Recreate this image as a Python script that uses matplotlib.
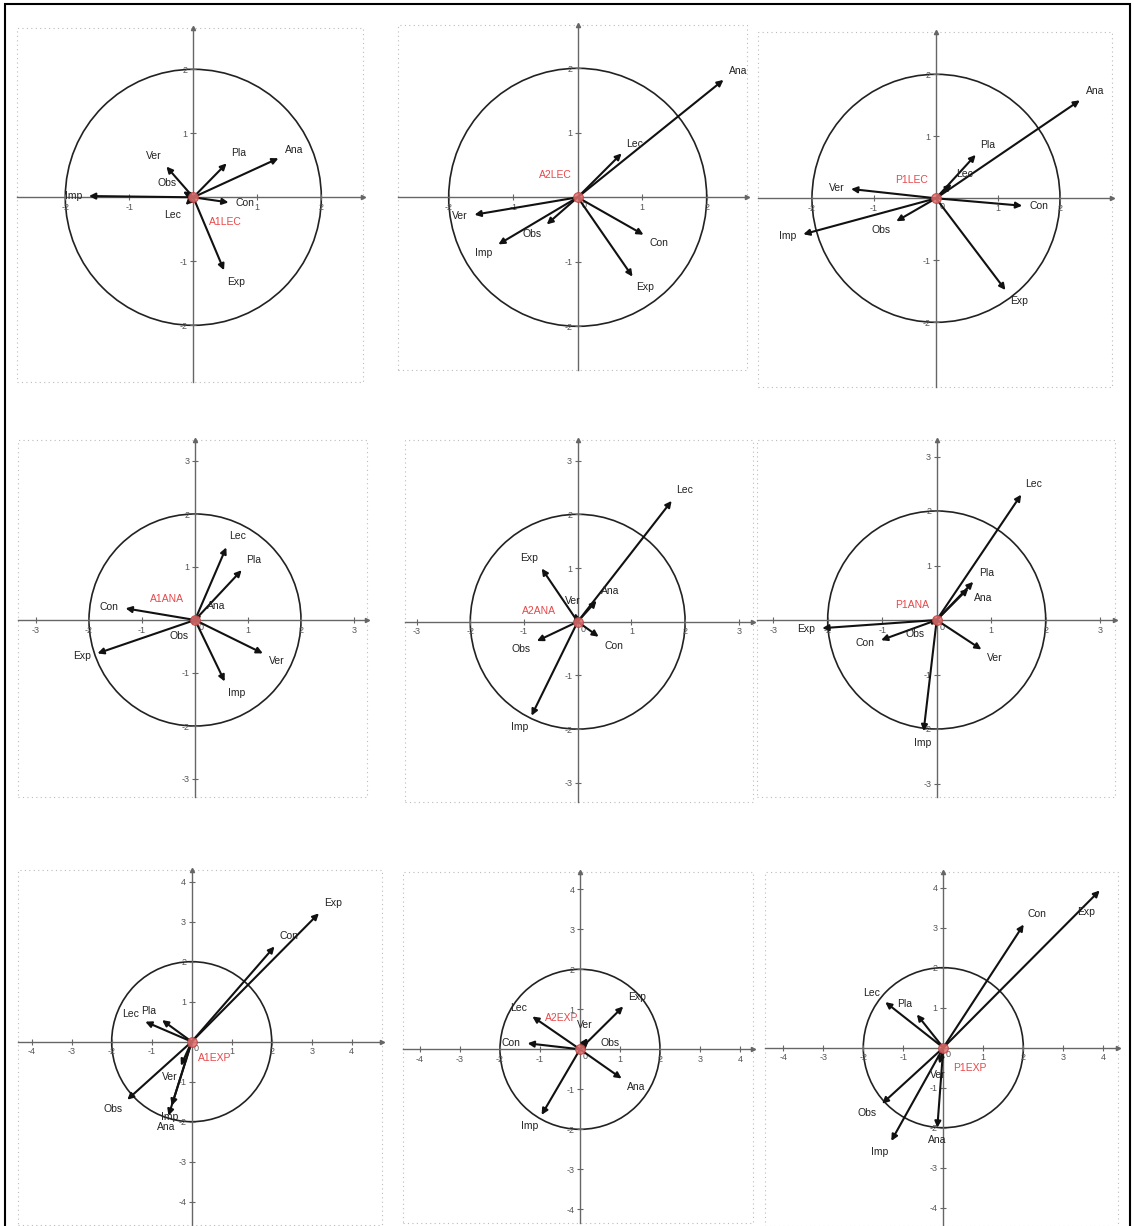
import numpy as np
import matplotlib
matplotlib.use('Agg')
import matplotlib.pyplot as plt
from matplotlib.patches import Circle, Rectangle

plt.rcParams['font.family'] = ['Liberation Sans', 'DejaVu Sans']

W, H = 1134, 1226

titles = ['A1LEC', 'A2LEC', 'P1LEC', 'A1ANA', 'A2ANA', 'P1ANA', 'A1EXP', 'A2EXP', 'P1EXP']

# vector end points
a1lec_names = ['Imp', 'Ana', 'Pla', 'Ver', 'Obs', 'Con', 'Exp', 'Lec']
a1lec_x = [-1.63, 1.33, 0.52, -0.42, -0.16, 0.55, 0.48, -0.12]
a1lec_y = [0.02, 0.61, 0.53, 0.48, 0.09, -0.08, -1.14, -0.12]

a2lec_names = ['Ana', 'Lec', 'Ver', 'Imp', 'Obs', 'Con', 'Exp']
a2lec_x = [2.26, 0.68, -1.60, -1.23, -0.48, 1.02, 0.85]
a2lec_y = [1.82, 0.68, -0.27, -0.73, -0.42, -0.58, -1.23]

p1lec_names = ['Ana', 'Pla', 'Lec', 'Ver', 'Imp', 'Obs', 'Con', 'Exp']
p1lec_x = [2.32, 0.64, 0.25, -1.37, -2.14, -0.64, 1.39, 1.12]
p1lec_y = [1.58, 0.70, 0.23, 0.15, -0.58, -0.37, -0.12, -1.48]

a1ana_names = ['Lec', 'Pla', 'Ana', 'Con', 'Exp', 'Obs', 'Ver', 'Imp']
a1ana_x = [0.59, 0.88, 0.12, -1.31, -1.84, -0.06, 1.28, 0.56]
a1ana_y = [1.37, 0.94, 0.09, 0.22, -0.63, -0.10, -0.63, -1.16]

a2ana_names = ['Lec', 'Exp', 'Ver', 'Ana', 'Obs', 'Con', 'Imp']
a2ana_x = [1.75, -0.67, -0.05, 0.35, -0.76, 0.39, -0.86]
a2ana_y = [2.25, 0.99, 0.16, 0.39, -0.36, -0.28, -1.75]

p1ana_names = ['Lec', 'Pla', 'Ana', 'Exp', 'Con', 'Obs', 'Ver', 'Imp']
p1ana_x = [1.55, 0.67, 0.58, -2.10, -1.02, -0.12, 0.82, -0.24]
p1ana_y = [2.30, 0.70, 0.58, -0.15, -0.37, -0.09, -0.54, -2.04]

a1exp_names = ['Exp', 'Con', 'Pla', 'Lec', 'Obs', 'Ver', 'Imp', 'Ana']
a1exp_x = [3.18, 2.07, -0.74, -1.16, -1.61, -0.27, -0.50, -0.58]
a1exp_y = [3.21, 2.38, 0.54, 0.50, -1.45, -0.60, -1.60, -1.85]

a2exp_names = ['Exp', 'Lec', 'Con', 'Ver', 'Obs', 'Ana', 'Imp']
a2exp_x = [1.08, -1.19, -1.31, 0.19, 0.21, 1.04, -0.96]
a2exp_y = [1.07, 0.82, 0.15, 0.28, 0.19, -0.73, -1.64]

p1exp_names = ['Exp', 'Con', 'Lec', 'Pla', 'Obs', 'Imp', 'Ana', 'Ver']
p1exp_x = [3.91, 2.01, -1.45, -0.66, -1.53, -1.30, -0.15, -0.10]
p1exp_y = [3.93, 3.08, 1.14, 0.83, -1.40, -2.33, -2.00, -0.40]

ticks_2 = [-2, -1, 1, 2]
ticks_3 = [-3, -2, -1, 1, 2, 3]
ticks_4 = [-4, -3, -2, -1, 1, 2, 3, 4]

panels = [
    (a1lec_names, a1lec_x, a1lec_y, ticks_2),
    (a2lec_names, a2lec_x, a2lec_y, ticks_2),
    (p1lec_names, p1lec_x, p1lec_y, ticks_2),
    (a1ana_names, a1ana_x, a1ana_y, ticks_3),
    (a2ana_names, a2ana_x, a2ana_y, ticks_3),
    (p1ana_names, p1ana_x, p1ana_y, ticks_3),
    (a1exp_names, a1exp_x, a1exp_y, ticks_4),
    (a2exp_names, a2exp_x, a2exp_y, ticks_4),
    (p1exp_names, p1exp_x, p1exp_y, ticks_4),
]

# layout: panel box in pixels (left, right, top, bottom), origin pixel, pixels per unit
boxes = [
    (17, 363, 28, 382, 193.3, 197.3, 64.0),
    (398, 747, 25, 370, 577.7, 197.3, 64.5),
    (758, 1112, 32, 387, 936.0, 198.3, 62.0),
    (18, 367, 440, 797, 195.0, 620.0, 53.0),
    (405, 753, 440, 802, 577.7, 621.7, 53.7),
    (757, 1115, 440, 797, 936.7, 620.0, 54.5),
    (18, 382, 870, 1225, 191.7, 1041.7, 40.0),
    (403, 753, 872, 1223, 580.0, 1049.3, 40.0),
    (765, 1118, 872, 1226, 943.3, 1047.7, 40.0),
]
title_pos = [(0.5, -0.38), (-0.35, 0.35), (-0.39, 0.30), (-0.53, 0.39), (-0.73, 0.20),
             (-0.46, 0.27), (0.58, -0.41), (-0.46, 0.78), (0.66, -0.51)]

# label placement tweaks: (panel, name) -> (dx pt, dy pt, ha, va)
label_fix = {
    (5, 'Pla'): (4, 3, 'left', 'bottom'),
    (5, 'Ana'): (4, -3, 'left', 'top'),
    (7, 'Ver'): (-2, 6, 'center', 'bottom'),
    (7, 'Obs'): (9, -1, 'left', 'center'),
    (8, 'Exp'): (-10, -12, 'center', 'top'),
}

fig = plt.figure(figsize=(W / 100, H / 100), dpi=100)

for i, (names, xs, ys, ticks) in enumerate(panels):
    l, r, t, b, ox, oy, u = boxes[i]
    ax = fig.add_axes([l / W, 1 - b / H, (r - l) / W, (b - t) / H])
    ax.set_xlim((l - ox) / u, (r - ox) / u)
    ax.set_ylim((oy - b) / u, (oy - t) / u)
    ax.patch.set_alpha(0)
    for s in ['top', 'right']:
        ax.spines[s].set_visible(False)
    for s in ['left', 'bottom']:
        ax.spines[s].set_position('zero')
        ax.spines[s].set_color('#666666')
        ax.spines[s].set_linewidth(1.0)
    ax.set_xticks(ticks)
    ax.set_yticks(ticks)
    ax.set_xticklabels([str(v) for v in ticks])
    ax.set_yticklabels([str(v) for v in ticks])
    ax.tick_params(direction='inout', length=4, width=0.8, color='#666666',
                   labelsize=6.5, labelcolor='#555555', pad=2)
    # axis arrow heads
    ax.plot(1, 0, '>', color='#666666', ms=3, transform=ax.get_yaxis_transform(), clip_on=False)
    ax.plot(0, 1, '^', color='#666666', ms=3, transform=ax.get_xaxis_transform(), clip_on=False)
    if i > 0:
        ax.text(0.06, -0.06, '0', fontsize=6.5, color='#555555', ha='left', va='top')
    # dotted panel frame
    ax.add_patch(Rectangle((0, 0), 1, 1, transform=ax.transAxes, fill=False,
                           ls=(0, (1, 3)), ec='#bbbbbb', lw=0.8, clip_on=False))
    ax.add_patch(Circle((0, 0), 2, fill=False, ec='#222222', lw=1.2))

    for n, x, y in zip(names, xs, ys):
        ax.annotate('', xy=(x, y), xytext=(0, 0),
                    arrowprops=dict(arrowstyle='-|>', color='#111111', lw=1.5,
                                    mutation_scale=9, shrinkA=0, shrinkB=0))
        d = np.array([x, y]) / np.hypot(x, y)
        ha = 'left' if d[0] > 0.35 else ('right' if d[0] < -0.35 else 'center')
        va = 'bottom' if d[1] > 0.35 else ('top' if d[1] < -0.35 else 'center')
        dx, dy = d[0] * 5, d[1] * 5
        if (i, n) in label_fix:
            dx, dy, ha, va = label_fix[(i, n)]
        ax.annotate(n, xy=(x, y), xytext=(dx, dy), textcoords='offset points',
                    fontsize=7.5, color='#222222', ha=ha, va=va)

    ax.plot(0, 0, 'o', ms=7, mfc='#e07070', mec='#c04040', mew=0.8, alpha=0.85, zorder=5)
    ax.text(title_pos[i][0], title_pos[i][1], titles[i], color='#e8474a', fontsize=7.5,
            ha='center', va='center')

# outer black frame
fig.add_artist(Rectangle((5 / W, -0.01), 1125 / W, 1 - 4 / H + 0.01, transform=fig.transFigure,
                         fill=False, ec='black', lw=1.5))

fig.savefig('out.png', dpi=100)
